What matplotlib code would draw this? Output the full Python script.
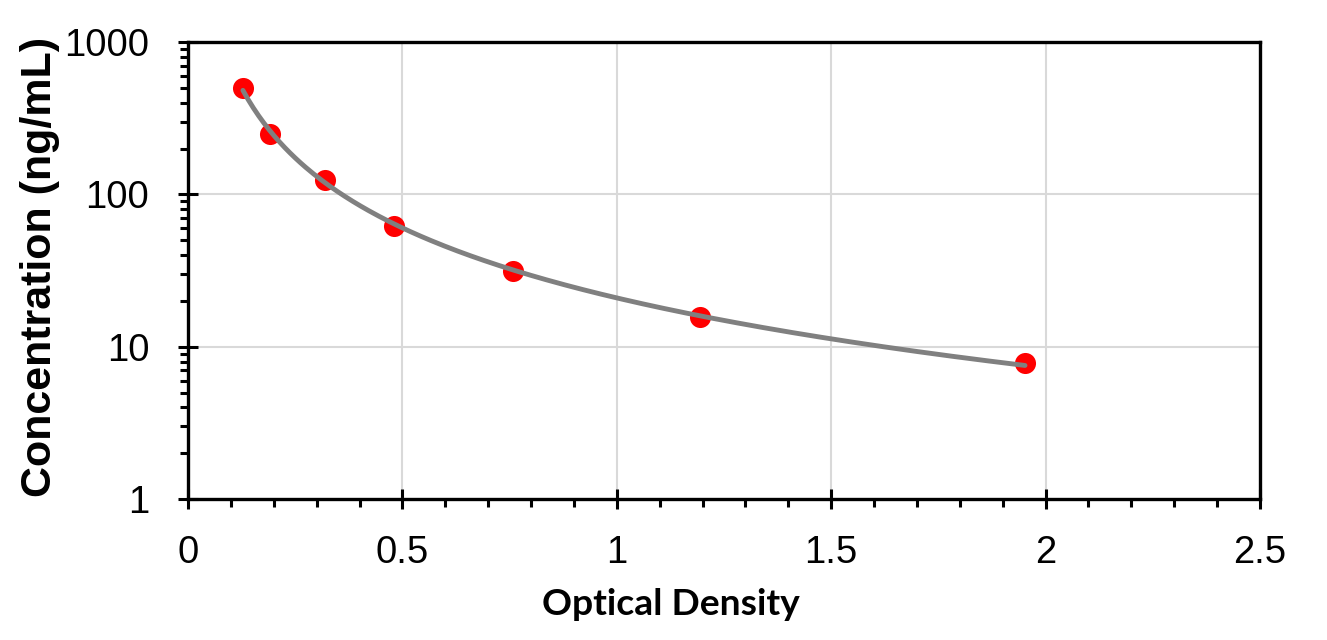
import numpy as np
import matplotlib
matplotlib.use("Agg")
import matplotlib.pyplot as plt
from matplotlib.ticker import MultipleLocator, LogLocator, NullFormatter, FixedLocator, FixedFormatter

# Data
od = [0.128, 0.191, 0.320, 0.480, 0.758, 1.194, 1.952]
conc = [500, 250, 125, 62.5, 31.25, 15.625, 7.8125]
x_ticks = [0, 0.5, 1, 1.5, 2, 2.5]
x_tick_labels = ["0", "0.5", "1", "1.5", "2", "2.5"]
y_ticks = [1, 10, 100, 1000]
y_tick_labels = ["1", "10", "100", "1000"]

plt.rcParams['font.family'] = ['Liberation Sans', 'DejaVu Sans']

fig = plt.figure(figsize=(13.27, 6.4), dpi=100)
ax = fig.add_axes([0.1417, 0.2203, 0.8078, 0.7137])

# Power trendline fitted to the data (as in a spreadsheet trendline)
b, a = np.polyfit(np.log(od), np.log(conc), 1)
xf = np.linspace(min(od), max(od), 300)
yf = np.exp(a) * xf ** b

ax.set_yscale('log')
ax.set_xlim(0, 2.5)
ax.set_ylim(1, 1000)

ax.grid(True, which='major', color='#d9d9d9', linewidth=1.5, zorder=0)
ax.scatter(od, conc, s=230, color='#ff0000', zorder=3, linewidths=0)
ax.plot(xf, yf, color='#808080', linewidth=3.5, zorder=4, solid_capstyle='round')

ax.xaxis.set_major_locator(FixedLocator(x_ticks))
ax.xaxis.set_major_formatter(FixedFormatter(x_tick_labels))
ax.xaxis.set_minor_locator(MultipleLocator(0.1))
ax.yaxis.set_major_locator(FixedLocator(y_ticks))
ax.yaxis.set_major_formatter(FixedFormatter(y_tick_labels))
ax.yaxis.set_minor_locator(LogLocator(base=10, subs=np.arange(2, 10)))
ax.yaxis.set_minor_formatter(NullFormatter())

ax.tick_params(which='major', direction='inout', length=14, width=2.2, labelsize=27.5)
ax.tick_params(axis='y', which='major', pad=21)
ax.tick_params(axis='x', which='major', pad=19)
ax.tick_params(which='minor', direction='out', length=6, width=2.2)
ax.tick_params(axis='x', which='both', top=False)
ax.tick_params(axis='y', which='both', right=False)

for sp in ax.spines.values():
    sp.set_linewidth(2.4)
    sp.set_color('black')

ax.set_xlabel('Optical Density', fontsize=26.8, fontweight='bold',
              family=['Lato', 'Liberation Sans', 'DejaVu Sans'])
ax.xaxis.set_label_coords(0.4506, -0.232)
ax.xaxis.label.set_verticalalignment('center')
ax.set_ylabel('Concentration (ng/mL)', fontsize=31, fontweight='bold')
ax.yaxis.set_label_coords(-0.138, 0.507)
ax.yaxis.label.set_verticalalignment('center')

fig.savefig('out.png', dpi=100)
